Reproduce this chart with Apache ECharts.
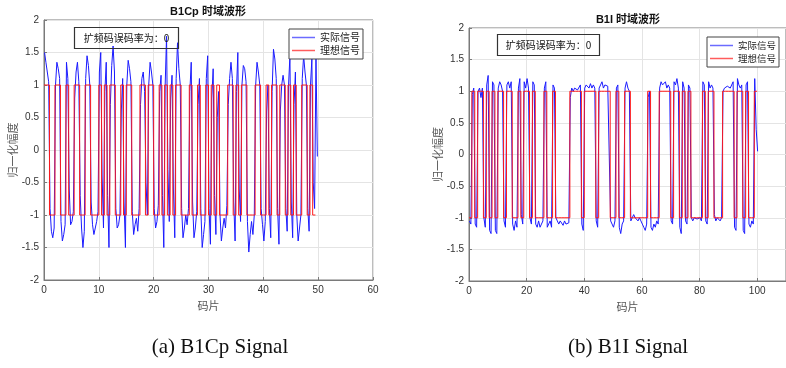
<!DOCTYPE html>
<html>
<head>
<meta charset="utf-8">
<script src="https://cdn.jsdelivr.net/npm/echarts@6/dist/echarts.min.js"></script>
<style>
  html, body { margin: 0; padding: 0; background: #fff; overflow: hidden; }
  #chart { width: 786px; height: 368px; }
</style>
</head>
<body>
<div id="chart"></div>
<script>
// B1Cp: ideal code, one value per half chip (0 .. 49.5)
const b1cpIdeal = [
  1, 1, -1, -1, 1, 1, -1, -1, 1, -1,
  -1, 1, 1, -1, -1, 1, 1, -1, -1, -1,
  1, -1, 1, -1, 1, 1, -1, -1, 1, -1,
  1, 1, -1, -1, -1, 1, 1, -1, 1, 1,
  -1, -1, 1, -1, 1, -1, 1, -1, 1, 1,
  -1, -1, -1, 1, -1, -1, 1, -1, -1, 1,
  -1, 1, -1, 1, -1, -1, -1, 1, 1, -1,
  1, -1, 1, 1, -1, -1, -1, 1, 1, -1,
  -1, 1, -1, 1, 1, -1, 1, 1, -1, 1,
  -1, 1, -1, -1, 1, 1, -1, 1, -1
]
// B1Cp: received signal, one sample per quarter chip
const b1cpActual = [
  1.50, 1.35, 1.20, 1.05, -0.90, -1.25, -1.35, -1.20, 1.00, 1.35, 1.25, 1.10, -1.10, -1.40, -1.30, -1.15, 1.35, 1.10, -0.60, -1.15,
  -1.10, -0.95, 0.80, 1.20, 1.35, 1.05, -0.70, -1.20, -1.50, -1.25, 1.10, 1.45, 1.30, 1.00, -0.80, -1.15, -1.30, -1.20, -1.10, -0.95,
  1.20, 1.50, -0.40, -1.20, 0.90, 1.35, -0.70, -1.50, 0.70, 1.30, 1.60, 1.20, -0.90, -1.20, -1.15, -1.00, 0.60, 1.10, -0.80, -1.50,
  1.00, 1.38, 1.25, 1.05, -0.95, -1.30, -1.15, -1.05, -1.25, -0.90, 0.70, 1.10, 1.20, 0.90, -0.50, -1.00, 1.00, 1.35, 1.20, 1.00,
  -0.90, -1.20, -1.10, -0.85, 0.90, 1.15, -0.70, -1.50, 1.00, 1.75, -0.30, -1.10, 0.80, 1.15, -0.60, -1.35, 1.10, 1.65, 1.25, 1.00,
  -0.90, -1.35, -1.20, -1.00, -1.15, -0.90, 0.90, 1.35, -0.80, -1.35, -1.20, -0.95, 0.70, 1.10, -0.90, -1.50, -1.30, -1.10, 1.10, 1.45,
  -0.90, -1.45, 0.80, 1.25, -0.70, -1.30, 0.50, 0.90, -1.00, -1.40, -1.20, -1.05, -1.20, -0.85, 0.70, 1.10, 1.35, 1.10, -0.80, -1.40,
  0.90, 1.50, -0.60, -1.10, 1.00, 1.30, 1.25, 1.05, -1.10, -1.57, -1.30, -1.10, -1.30, -1.00, 1.00, 1.35, 1.20, 1.00, -0.90, -1.15,
  -1.40, -1.10, 0.60, 1.00, -0.90, -1.35, 0.90, 1.55, 1.40, 1.10, -0.90, -1.45, 0.60, 1.00, 1.15, 1.00, -0.90, -1.25, 1.00, 1.45,
  -0.80, -1.35, 0.70, 1.20, -1.00, -1.40, -1.20, -1.00, 1.10, 1.45, 1.20, 1.00, -0.90, -1.25, 1.00, 1.40, -0.50, -0.90, 1.45, -0.10
]

// B1I: ideal code, one value per chip (0 .. 100)
const b1iIdeal = [
  -1, 1, -1, 1, 1, -1, 1, -1, 1, -1,
  1, 1, -1, 1, 1, -1, -1, 1, -1, 1,
  1, -1, 1, -1, -1, -1, 1, -1, -1, 1,
  -1, -1, -1, -1, -1, 1, 1, 1, 1, -1,
  1, 1, 1, 1, -1, 1, 1, 1, 1, -1,
  -1, 1, -1, -1, 1, 1, -1, -1, -1, -1,
  -1, -1, 1, -1, -1, -1, 1, 1, 1, 1,
  -1, 1, 1, -1, 1, -1, 1, -1, -1, -1,
  -1, 1, -1, 1, 1, -1, -1, -1, 1, 1,
  1, 1, -1, 1, 1, -1, 1, -1, -1, 1
]
// B1I: received signal, one sample per half chip
const b1iActual = [
  -1.05, -1.10, 0.95, 1.05, -1.10, -1.15, 1.00, 1.05, 0.90, 1.05, -1.00, -1.15, 1.10, 1.25, -1.20, -1.25, 1.15, 1.10, -1.20, -1.25,
  1.05, 1.15, 1.10, 1.00, -1.05, -1.15, 1.10, 1.15, 1.05, 1.15, -1.10, -1.20, -1.05, -1.15, 1.05, 1.20, -0.95, -1.10, 1.15, 1.05,
  1.20, 1.05, -1.00, -1.10, 1.15, 1.10, -1.10, -1.15, -1.05, -1.15, -1.10, -1.05, 1.05, 1.15, -1.15, -1.10, -1.05, -1.15, 1.10, 1.05,
  -1.00, -1.05, -1.10, -1.05, -1.08, -1.12, -1.05, -1.10, -1.12, -1.08, 0.90, 1.05, 1.00, 1.05, 1.08, 1.02, 1.05, 1.10, -1.10, -1.20,
  1.05, 1.10, 1.08, 1.05, 1.12, 1.05, 1.10, 1.05, -1.05, -1.15, 1.05, 1.10, 1.15, 1.05, 1.10, 1.12, 1.08, 1.05, -1.05, -1.10,
  -1.15, -1.05, 1.05, 1.10, -1.15, -1.25, -1.10, -1.05, 1.05, 1.15, 1.05, 1.00, -1.05, -1.00, -0.95, -1.00, -1.03, -1.05, -1.00, -1.05,
  -1.10, -1.15, -1.20, -1.10, 0.90, 1.00, -1.15, -1.20, -1.10, -1.15, -1.05, -1.10, 1.05, 1.15, 1.10, 1.08, 1.15, 1.05, 1.10, 1.05,
  -1.05, -1.10, 1.15, 1.10, 1.20, 1.05, -1.15, -1.25, 1.15, 1.05, -1.05, -1.10, 1.10, 1.05, -1.00, -1.05, -1.00, -0.98, -1.02, -1.00,
  -1.00, -1.05, 1.15, 1.10, -1.05, -1.10, 1.15, 1.05, 1.10, 1.05, -0.95, -1.05, -1.00, -1.02, -1.05, -1.00, 1.00, 1.05, 1.05, 1.08,
  1.10, 1.05, 1.08, 1.15, -1.15, -1.20, 1.20, 1.10, 1.05, 1.10, -1.20, -1.25, 1.10, 1.15, -1.10, -1.15, -1.05, -1.10, 1.20, 0.40,
  0.05
]

const yTicks = { min: -2, max: 2, interval: 0.5 }
const seriesNames = ['实际信号', '理想信号']
const blue = '#1a1aff'
const red = '#ff1a1a'
const cjk = '"Noto Sans CJK SC"'

// step line helpers: hold each value for one slot
const stepPoints = (values, width) =>
  values.map((v, i) => [i * width, v]).concat([[values.length * width, values[values.length - 1]]])
const samplePoints = (values, step, offset) => values.map((v, i) => [i * step + offset, v])

const chart = echarts.init(document.getElementById('chart'))

const xAxisBase = (gridIndex, max, interval) => ({
  gridIndex,
  type: 'value',
  min: 0,
  max,
  interval,
  name: '码片',
  nameLocation: 'middle',
  nameGap: 19,
  nameTextStyle: { fontFamily: cjk, fontSize: 11, color: '#555' },
  axisLine: { show: true, onZero: false, lineStyle: { color: '#7a7a7a' } },
  axisTick: { show: true, inside: true, length: 3, lineStyle: { color: '#7a7a7a' } },
  axisLabel: { color: '#333', fontSize: 10, margin: 5, showMaxLabel: max % interval === 0 },
  splitLine: { show: true, lineStyle: { color: '#e4e4e4' } }
})

const yAxisBase = gridIndex => ({
  gridIndex,
  type: 'value',
  ...yTicks,
  name: '归一化幅度',
  nameLocation: 'middle',
  nameGap: 24,
  nameTextStyle: { fontFamily: cjk, fontSize: 11, color: '#555' },
  axisLine: { show: true, lineStyle: { color: '#7a7a7a' } },
  axisTick: { show: true, inside: true, length: 3, lineStyle: { color: '#7a7a7a' } },
  axisLabel: { color: '#333', fontSize: 10, margin: 5 },
  splitLine: { show: true, lineStyle: { color: '#e4e4e4' } }
})

const legendBase = (left, top, fontSize) => ({
  left,
  top,
  orient: 'vertical',
  data: [
    { name: seriesNames[0], itemStyle: { color: '#6b6bff', borderWidth: 0 } },
    { name: seriesNames[1], itemStyle: { color: '#ff5c5c', borderWidth: 0 } }
  ],
  icon: 'rect',
  itemWidth: 23,
  itemHeight: 1.5,
  itemGap: 2,
  padding: [3, 3, 3, 3],
  backgroundColor: '#fff',
  borderColor: '#444',
  borderWidth: 1,
  selectedMode: false,
  itemStyle: { borderWidth: 0 },
  textStyle: { fontFamily: cjk, fontSize, color: '#222', lineHeight: 11 }
})

const lineSeries = (name, color, axisIndex, data, step) => ({
  name,
  type: 'line',
  xAxisIndex: axisIndex,
  yAxisIndex: axisIndex,
  data,
  step,
  symbol: 'none',
  silent: true,
  itemStyle: { color },
  lineStyle: { color, width: 1 }
})

const textBox = (x, y, w, h, text) => [
  {
    type: 'rect',
    z: 100,
    shape: { x, y, width: w, height: h },
    style: { fill: 'none', stroke: '#333', lineWidth: 1.2 }
  },
  {
    type: 'text',
    z: 101,
    x: x + w / 2,
    y: y + h / 2,
    style: { text, font: '10px ' + cjk, fill: '#111', textAlign: 'center', textVerticalAlign: 'middle' }
  }
]

const label = (x, y, text, font) => ({
  type: 'text',
  z: 100,
  x,
  y,
  style: { text, font, fill: '#111', textAlign: 'center', textVerticalAlign: 'middle' }
})

chart.setOption({
  animation: false,
  textStyle: { fontFamily: '"Liberation Sans", Arial, sans-serif' },
  grid: [
    { left: 44, top: 20, width: 329, height: 260, show: true, borderColor: '#7a7a7a', borderWidth: 1 },
    { left: 469, top: 28, width: 319, height: 253, show: true, borderColor: '#7a7a7a', borderWidth: 1 }
  ],
  xAxis: [xAxisBase(0, 60, 10), xAxisBase(1, 110, 20)],
  yAxis: [yAxisBase(0), yAxisBase(1)],
  legend: [legendBase(289, 29, 10), legendBase(707, 37, 9.5)],
  series: [
    lineSeries(seriesNames[0], blue, 0, samplePoints(b1cpActual, 0.25, 0.1), false),
    lineSeries(seriesNames[1], red, 0, stepPoints(b1cpIdeal, 0.5), 'end'),
    lineSeries(seriesNames[0], blue, 1, samplePoints(b1iActual, 0.5, 0.15), false),
    lineSeries(seriesNames[1], red, 1, stepPoints(b1iIdeal, 1), 'end')
  ],
  graphic: [
    label(208, 12, 'B1Cp 时域波形', 'bold 11px "Liberation Sans", ' + cjk),
    label(628, 20, 'B1I 时域波形', 'bold 11px "Liberation Sans", ' + cjk),
    ...textBox(74.5, 27.5, 104, 21, '扩频码误码率为：0'),
    ...textBox(497.5, 34.5, 102, 21, '扩频码误码率为：0'),
    label(220, 347, '(a) B1Cp Signal', '21px "Liberation Serif", "Times New Roman", serif'),
    label(628, 347, '(b) B1I Signal', '21px "Liberation Serif", "Times New Roman", serif')
  ]
})

window.addEventListener('resize', () => chart.resize())
</script>
</body>
</html>
